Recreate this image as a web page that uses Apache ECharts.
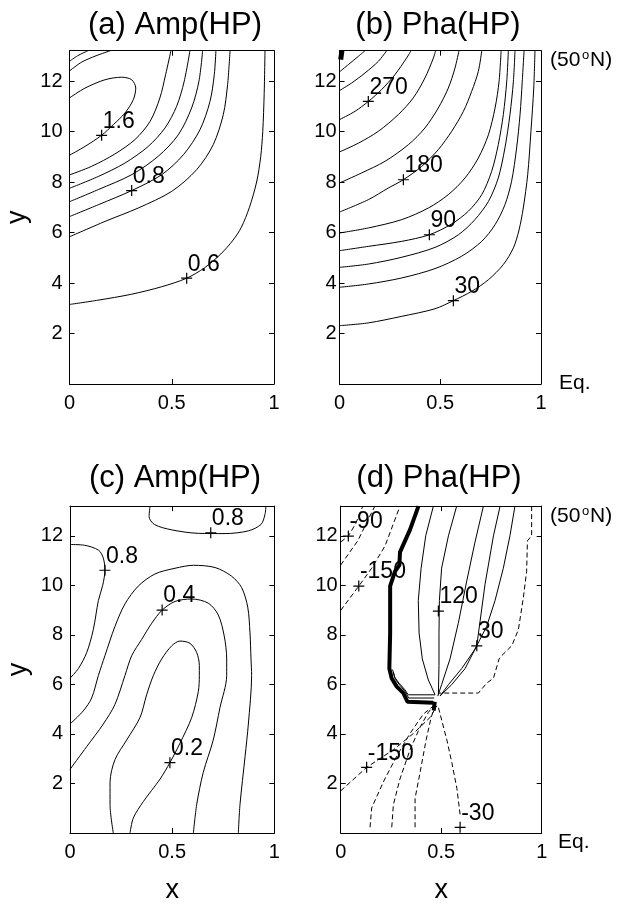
<!DOCTYPE html>
<html>
<head>
<meta charset="utf-8">
<script src="https://cdn.jsdelivr.net/npm/echarts@6/dist/echarts.min.js"></script>
<style>
  html, body { margin: 0; background: #fff; }
  #chart { width: 620px; height: 905px; }
</style>
</head>
<body>
<div id="chart"></div>
<script>
// ---- (a) Amp(HP) : contour lines, [x, y]
const aCorner1 = [[0, 12.78], [0.04, 13.0], [0.09, 13.2]];
const aCorner2 = [[0, 12.4], [0.06, 12.75], [0.13, 13.0], [0.2, 13.2]];
const aTongue = [[0, 11.33], [0.076, 11.72], [0.174, 12.05], [0.255, 12.15], [0.304, 12.05], [0.324, 11.72], [0.312, 11.26], [0.271, 10.73], [0.214, 10.27], [0.157, 9.85], [0.076, 9.41], [0, 9.06]];
const aLineA = [[0, 8.28], [0.108, 8.62], [0.222, 9.11], [0.32, 9.68], [0.394, 10.4], [0.442, 11.33], [0.47, 12.25], [0.496, 13.2]];
const aLineB = [[0, 7.75], [0.141, 8.22], [0.271, 8.75], [0.385, 9.41], [0.467, 10.14], [0.524, 11.0], [0.561, 11.99], [0.589, 13.2]];
const aLineC = [[0, 7.22], [0.141, 7.7], [0.304, 8.29], [0.434, 9.02], [0.532, 9.87], [0.597, 10.93], [0.633, 11.99], [0.651, 13.2]];
const aLineD = [[0, 6.63], [0.141, 7.1], [0.304, 7.66], [0.451, 8.29], [0.557, 9.08], [0.638, 10.07], [0.687, 11.19], [0.708, 12.25], [0.716, 13.2]];
const aLineE = [[0, 5.83], [0.174, 6.44], [0.336, 6.97], [0.5, 7.63], [0.622, 8.49], [0.703, 9.48], [0.752, 10.67], [0.773, 11.85], [0.785, 13.2]];
const aLineF = [[0, 3.15], [0.14, 3.32], [0.3, 3.55], [0.45, 3.85], [0.573, 4.19], [0.66, 4.6], [0.74, 5.15], [0.8, 5.7], [0.84, 6.2], [0.88, 7.0], [0.915, 8.0], [0.935, 9.0], [0.945, 10], [0.952, 11.5], [0.956, 13.2]];
const aMarks = [[0.157, 9.85], [0.304, 7.66], [0.573, 4.19]];
const aMarkText = ['1.6', '0.8', '0.6'];

// ---- (b) Pha(HP)
const b330 = [[0, 12.36], [0.044, 12.65], [0.094, 12.98], [0.127, 13.2]];
const b300 = [[0, 11.62], [0.06, 11.92], [0.127, 12.32], [0.193, 12.78], [0.234, 13.2]];
const b270 = [[0, 10.47], [0.077, 10.8], [0.143, 11.19], [0.209, 11.66], [0.275, 12.25], [0.333, 12.91], [0.355, 13.2]];
const b240 = [[0, 9.19], [0.094, 9.54], [0.193, 10.01], [0.292, 10.67], [0.366, 11.33], [0.424, 12.12], [0.466, 12.91], [0.477, 13.2]];
const b210 = [[0, 7.96], [0.11, 8.36], [0.226, 8.82], [0.342, 9.48], [0.424, 10.14], [0.49, 10.93], [0.54, 11.72], [0.573, 12.51], [0.593, 13.2]];
const b180 = [[0, 6.81], [0.143, 7.3], [0.242, 7.76], [0.317, 8.09], [0.408, 8.62], [0.49, 9.28], [0.557, 10.01], [0.615, 10.8], [0.656, 11.59], [0.689, 12.38], [0.706, 13.2]];
const b150 = [[0, 5.98], [0.143, 6.18], [0.309, 6.51], [0.441, 6.97], [0.54, 7.5], [0.623, 8.16], [0.689, 8.95], [0.739, 9.87], [0.772, 10.93], [0.792, 11.99], [0.802, 13.2]];
const b120 = [[0, 5.28], [0.143, 5.45], [0.309, 5.65], [0.446, 5.91], [0.557, 6.34], [0.639, 6.84], [0.706, 7.5], [0.755, 8.42], [0.788, 9.48], [0.813, 10.67], [0.83, 11.99], [0.838, 13.2]];
const b90 = [[0, 4.62], [0.143, 4.75], [0.309, 5.02], [0.474, 5.41], [0.59, 5.91], [0.672, 6.51], [0.739, 7.23], [0.788, 8.16], [0.821, 9.35], [0.846, 10.67], [0.863, 11.99], [0.871, 13.2]];
const b60 = [[0, 3.83], [0.143, 3.96], [0.309, 4.2], [0.474, 4.57], [0.606, 5.06], [0.706, 5.65], [0.772, 6.31], [0.821, 7.1], [0.854, 8.03], [0.879, 9.35], [0.896, 10.67], [0.907, 11.99], [0.916, 13.2]];
const b30 = [[0, 2.31], [0.143, 2.42], [0.309, 2.68], [0.474, 2.98], [0.565, 3.3], [0.656, 3.67], [0.739, 4.13], [0.813, 4.73], [0.863, 5.39], [0.891, 6.1], [0.912, 6.97], [0.934, 8.29], [0.95, 10.0], [0.964, 11.72], [0.97, 13.2]];
const bCornerBlob = [[0.006, 12.85], [0.012, 13.2]];
const bMarks = [[0.143, 11.19], [0.317, 8.09], [0.446, 5.91], [0.565, 3.3]];
const bMarkText = ['270', '180', '90', '30'];

// ---- (c) Amp(HP)
const cTop08 = [[0.392, 13.2], [0.387, 12.78], [0.413, 12.46], [0.498, 12.24], [0.628, 12.1], [0.759, 12.09], [0.873, 12.2], [0.935, 12.46], [0.954, 12.85], [0.959, 13.2]];
const cLeft08 = [[0, 11.65], [0.07, 11.62], [0.14, 11.42], [0.163, 11.1], [0.171, 10.61], [0.16, 10.0], [0.139, 9.39], [0.114, 8.21], [0.082, 7.29], [0.041, 6.64], [0, 6.25]];
const cOuter = [[0, 4.4], [0.065, 4.93], [0.106, 5.45], [0.139, 6.36], [0.171, 7.16], [0.22, 8.34], [0.269, 9.25], [0.334, 9.97], [0.416, 10.46], [0.514, 10.69], [0.604, 10.81], [0.71, 10.72], [0.791, 10.37], [0.84, 9.91], [0.87, 9.12], [0.881, 8.08], [0.886, 7.03], [0.889, 6.36], [0.873, 4.4], [0.857, 3.1], [0.832, 1.14], [0.824, 0]];
const cMiddle = [[0, 2.57], [0.082, 3.49], [0.163, 4.4], [0.22, 5.19], [0.269, 6.36], [0.302, 7.16], [0.351, 7.82], [0.4, 8.47], [0.451, 9.0], [0.514, 9.35], [0.595, 9.45], [0.677, 9.28], [0.726, 8.8], [0.755, 7.95], [0.767, 7.03], [0.767, 6.36], [0.734, 5.06], [0.701, 3.75], [0.652, 2.44], [0.62, 1.14], [0.604, 0]];
const cInner = [[0.212, 0], [0.196, 1.14], [0.196, 2.05], [0.22, 2.96], [0.277, 3.75], [0.343, 4.67], [0.375, 5.58], [0.408, 6.36], [0.449, 7.03], [0.498, 7.56], [0.538, 7.75], [0.587, 7.66], [0.62, 7.29], [0.633, 6.77], [0.633, 6.36], [0.628, 5.71], [0.596, 4.67], [0.538, 3.62], [0.489, 2.84], [0.441, 2.18], [0.359, 1.27], [0.31, 0.61], [0.294, 0]];
const cMarks = [[0.689, 12.12], [0.171, 10.61], [0.451, 9.0], [0.489, 2.84]];
const cMarkText = ['0.8', '0.8', '0.4', '0.2'];

// ---- (d) Pha(HP)
const dThick = [[0.387, 13.2], [0.345, 12.25], [0.295, 11.34], [0.292, 10.82], [0.27, 10.56], [0.246, 9.97], [0.246, 8.07], [0.242, 6.64], [0.254, 6.24], [0.279, 5.91], [0.312, 5.65], [0.332, 5.3], [0.461, 5.26]];
const dHatch1 = [[0.262, 6.5], [0.272, 6.2], [0.296, 5.95], [0.322, 5.7], [0.338, 5.45], [0.465, 5.45]];
const dHatch2 = [[0.258, 6.6], [0.268, 6.3], [0.29, 6.05], [0.318, 5.8], [0.336, 5.58], [0.47, 5.58]];
const dSolid1 = [[0.461, 13.2], [0.423, 12.0], [0.4, 10.69], [0.386, 9.39], [0.39, 8.08], [0.406, 7.03], [0.436, 6.18], [0.469, 5.59]];
const dSolid2 = [[0.577, 13.2], [0.536, 12.0], [0.502, 10.69], [0.491, 9.39], [0.489, 8.08], [0.489, 6.77], [0.486, 5.59]];
const dSolid3 = [[0.71, 13.2], [0.668, 11.74], [0.627, 10.17], [0.585, 8.47], [0.544, 7.03], [0.502, 5.99], [0.483, 5.53]];
const dSolid4 = [[0.793, 13.2], [0.76, 12.0], [0.718, 10.04], [0.677, 7.56], [0.619, 6.64], [0.552, 5.99], [0.494, 5.53]];
const dSolid5 = [[0.867, 13.2], [0.842, 12.0], [0.809, 10.69], [0.768, 9.39], [0.726, 8.34], [0.668, 7.42], [0.602, 6.64], [0.536, 5.99], [0.494, 5.53]];
const dDashRight = [[0.95, 13.2], [0.95, 12.0], [0.929, 11.8], [0.925, 10.56], [0.909, 9.52], [0.884, 8.21], [0.851, 7.56], [0.801, 7.16], [0.788, 7.03], [0.76, 6.25], [0.726, 6.05], [0.685, 5.65], [0.486, 5.65]];
const dDash1 = [[0, 11.75], [0.038, 11.99], [0.075, 12.5], [0.11, 13.2]];
const dDash2 = [[0, 10.82], [0.085, 11.8], [0.17, 13.2]];
const dDash3 = [[0, 8.99], [0.09, 9.97], [0.154, 10.69], [0.221, 11.6], [0.295, 13.2]];
const dLow1 = [[0, 1.7], [0.129, 2.65], [0.262, 3.36], [0.362, 4.02], [0.445, 4.67], [0.478, 5.13]];
const dLow2 = [[0.146, 0.23], [0.154, 1.01], [0.212, 2.06], [0.279, 3.11], [0.345, 4.02], [0.411, 4.8], [0.461, 5.13]];
const dLow3 = [[0.254, 0.23], [0.262, 1.14], [0.295, 2.19], [0.345, 3.36], [0.395, 4.28], [0.436, 4.87], [0.461, 5.13]];
const dLow4 = [[0.37, 0.23], [0.37, 1.4], [0.395, 2.45], [0.425, 3.76], [0.45, 4.67], [0.47, 5.13]];
const dLow5 = [[0.594, 0.75], [0.578, 1.8], [0.553, 2.84], [0.528, 3.76], [0.503, 4.54], [0.486, 5.07]];
const dBlob = [[0.463, 4.95], [0.468, 5.3]];
const dMarks = [[0.038, 11.99], [0.09, 9.97], [0.486, 8.96], [0.677, 7.56], [0.129, 2.65], [0.594, 0.23]];
const dMarkText = ['-90', '-150', '120', '30', '-150', '-30'];

// axis ticks
const xTicks = [0, 0.5, 1];
const yMax = 13.2;

const FONT = 'Liberation Sans, Arial, Helvetica, sans-serif';

const chart = echarts.init(document.getElementById('chart'), null, { renderer: 'canvas' });

const grids = [
  { left: 69.5, top: 50.7, width: 204.5, height: 333.3 },
  { left: 339.5, top: 50.7, width: 201.5, height: 333.3 },
  { left: 70, top: 506.1, width: 204.3, height: 336.2 },
  { left: 340.7, top: 506.1, width: 201, height: 336.2 }
];

const xAxes = [];
const yAxes = [];
grids.forEach((g, i) => {
  const base = {
    gridIndex: i,
    type: 'value',
    axisLine: { show: true, onZero: false, lineStyle: { color: '#000', width: 1 } },
    axisTick: { show: true, inside: true, length: 5, lineStyle: { color: '#000' } },
    splitLine: { show: false }
  };
  xAxes.push(Object.assign({}, base, {
    position: 'bottom',
    min: xTicks[0], max: xTicks[xTicks.length - 1], interval: 0.5,
    axisLabel: { color: '#000', fontSize: 20, fontFamily: FONT, margin: 9 },
    name: i >= 2 ? 'x' : '',
    nameLocation: 'middle',
    nameGap: 44,
    nameTextStyle: { color: '#000', fontSize: 27, fontFamily: FONT }
  }));
  xAxes.push(Object.assign({}, base, {
    position: 'top',
    min: 0, max: 1, interval: 0.5,
    axisLabel: { show: false }
  }));
  yAxes.push(Object.assign({}, base, {
    position: 'left',
    min: 0, max: yMax, interval: 2,
    axisLabel: {
      color: '#000', fontSize: 20, fontFamily: FONT,
      margin: (i % 2 === 0) ? 7 : 3,
      showMinLabel: false, showMaxLabel: false,
      formatter: v => (v > 0 && v < 13 ? String(v) : '')
    },
    name: (i % 2 === 0) ? 'y' : '',
    nameLocation: 'middle',
    nameGap: 38,
    nameRotate: 90,
    nameTextStyle: { color: '#000', fontSize: 27, fontFamily: FONT }
  }));
  yAxes.push(Object.assign({}, base, {
    position: 'right',
    min: 0, max: yMax, interval: 2,
    axisLabel: { show: false }
  }));
});

const series = [];
function addLine(panel, pts, opts) {
  opts = opts || {};
  series.push({
    type: 'line',
    xAxisIndex: panel * 2,
    yAxisIndex: panel * 2,
    data: pts,
    symbol: 'none',
    smooth: opts.smooth === undefined ? 0.3 : opts.smooth,
    silent: true,
    clip: true,
    lineStyle: {
      color: '#000',
      width: opts.width || 1,
      opacity: 1,
      type: opts.dashed ? [5, 3] : 'solid'
    },
    z: 2
  });
}
function addMarks(panel, pts, texts) {
  series.push({
    type: 'scatter',
    xAxisIndex: panel * 2,
    yAxisIndex: panel * 2,
    data: pts.map((p, k) => [p[0], p[1], texts[k]]),
    symbol: 'path://M0,5L10,5M5,0L5,10',
    symbolSize: 11,
    silent: true,
    itemStyle: { color: 'transparent', borderColor: '#000', borderWidth: 1.2, opacity: 1 },
    label: {
      show: true,
      position: 'right',
      distance: 0,
      offset: [-5, -14],
      formatter: p => p.value[2],
      color: '#000',
      opacity: 1,
      fontSize: 23,
      fontFamily: FONT
    },
    z: 5
  });
}

// (a)
[aCorner1, aCorner2, aTongue, aLineA, aLineB, aLineC, aLineD, aLineE, aLineF].forEach(l => addLine(0, l));
addMarks(0, aMarks, aMarkText);
// (b)
[b330, b300, b270, b240, b210, b180, b150, b120, b90, b60, b30].forEach(l => addLine(1, l));
addLine(1, bCornerBlob, { width: 5, smooth: false });
addMarks(1, bMarks, bMarkText);
// (c)
[cTop08, cLeft08, cOuter, cMiddle, cInner].forEach(l => addLine(2, l));
addMarks(2, cMarks, cMarkText);
// (d)
addLine(3, dThick, { width: 4, smooth: false });
[dHatch1, dHatch2, dSolid1, dSolid2, dSolid3, dSolid4, dSolid5].forEach(l => addLine(3, l, { smooth: false }));
[dDashRight, dDash1, dDash2, dDash3, dLow1, dLow2, dLow3, dLow4, dLow5].forEach(l => addLine(3, l, { dashed: true, smooth: false }));
addLine(3, dBlob, { width: 4, smooth: false });
addMarks(3, dMarks, dMarkText);

function txt(x, y, s, size, align) {
  return {
    type: 'text', x: x, y: y, silent: true,
    style: {
      text: s, fill: '#000', fontSize: size, fontFamily: FONT,
      align: align || 'center', verticalAlign: 'middle',
      textAlign: align || 'center', textVerticalAlign: 'middle'
    }
  };
}

const graphics = [
  txt(175, 25, '(a) Amp(HP)', 31),
  txt(438, 25, '(b) Pha(HP)', 31),
  txt(175, 478, '(c) Amp(HP)', 31),
  txt(439, 478, '(d) Pha(HP)', 31),
  // latitude markers
  txt(550, 60, '(50', 21, 'left'),
  txt(582, 55, 'o', 13, 'left'),
  txt(590, 60, 'N)', 21, 'left'),
  txt(559, 383, 'Eq.', 21, 'left'),
  txt(550, 516, '(50', 21, 'left'),
  txt(582, 511, 'o', 13, 'left'),
  txt(590, 516, 'N)', 21, 'left'),
  txt(558, 842, 'Eq.', 21, 'left')
];

chart.setOption({
  backgroundColor: '#fff',
  animation: false,
  grid: grids,
  xAxis: xAxes,
  yAxis: yAxes,
  series: series,
  graphic: graphics
});
</script>
</body>
</html>
